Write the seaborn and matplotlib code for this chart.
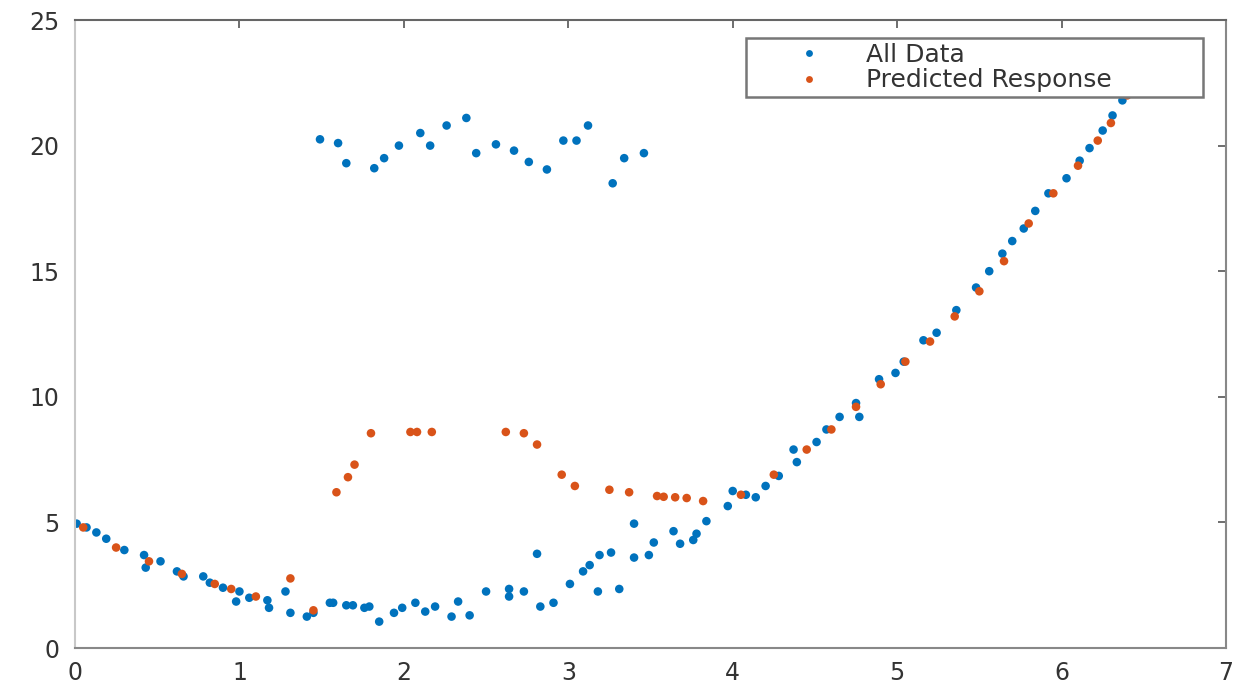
import numpy as np
import pandas as pd
import matplotlib
matplotlib.use("Agg")
import matplotlib.pyplot as plt
import seaborn as sns

# ---- data ----
all_x = [0.01, 0.07, 0.13, 0.19, 0.30, 0.42, 0.43, 0.52, 0.62, 0.66, 0.78, 0.82, 0.90,
         1.00, 0.98, 1.06, 1.17, 1.18, 1.28, 1.31, 1.41, 1.45, 1.55, 1.65, 1.76,
         1.57, 1.69, 1.79, 1.85, 1.94, 1.99, 2.07, 2.13, 2.19, 2.29, 2.33, 2.40,
         2.50, 2.64, 2.64, 2.73, 2.81, 2.83, 2.91, 3.01, 3.09, 3.13, 3.19, 3.26,
         3.18, 3.31, 3.40, 3.40, 3.49, 3.52, 3.64, 3.68, 3.76, 3.78, 3.84, 3.97,
         4.00, 4.08, 4.14, 4.20, 4.28, 4.39, 4.37, 4.51, 4.57, 4.65, 4.75, 4.77,
         4.89, 4.99, 5.04, 5.16, 5.24, 5.36, 5.48, 5.56, 5.64, 5.70, 5.77, 5.84,
         5.92, 6.03, 6.11, 6.17, 6.25, 6.31, 6.37,
         1.49, 1.60, 1.65, 1.82, 1.88, 1.97, 2.10, 2.16, 2.26, 2.38, 2.44, 2.56,
         2.67, 2.76, 2.87, 2.97, 3.05, 3.12, 3.27, 3.34, 3.46]
all_y = [4.95, 4.80, 4.60, 4.35, 3.90, 3.70, 3.20, 3.45, 3.05, 2.85, 2.85, 2.60, 2.40,
         2.25, 1.85, 2.00, 1.90, 1.60, 2.25, 1.40, 1.25, 1.40, 1.80, 1.70, 1.60,
         1.80, 1.70, 1.65, 1.05, 1.40, 1.60, 1.80, 1.45, 1.65, 1.25, 1.85, 1.30,
         2.25, 2.35, 2.05, 2.25, 3.75, 1.65, 1.80, 2.55, 3.05, 3.30, 3.70, 3.80,
         2.25, 2.35, 3.60, 4.95, 3.70, 4.20, 4.65, 4.15, 4.30, 4.55, 5.05, 5.65,
         6.25, 6.10, 6.00, 6.45, 6.85, 7.40, 7.90, 8.20, 8.70, 9.20, 9.75, 9.20,
         10.70, 10.95, 11.40, 12.25, 12.55, 13.45, 14.35, 15.00, 15.70, 16.20, 16.70, 17.40,
         18.10, 18.70, 19.40, 19.90, 20.60, 21.20, 21.80,
         20.25, 20.10, 19.30, 19.10, 19.50, 20.00, 20.50, 20.00, 20.80, 21.10, 19.70, 20.05,
         19.80, 19.35, 19.05, 20.20, 20.20, 20.80, 18.50, 19.50, 19.70]

pred_x = [0.05, 0.25, 0.45, 0.65, 0.85, 0.95, 1.10, 1.31, 1.45,
          1.59, 1.66, 1.70, 1.80, 2.04, 2.08, 2.17, 2.62, 2.73, 2.81, 2.96, 3.04,
          3.25, 3.37, 3.54, 3.58, 3.65, 3.72, 3.82,
          4.05, 4.25, 4.45, 4.60, 4.75, 4.90, 5.05, 5.20, 5.35, 5.50, 5.65,
          5.80, 5.95, 6.10, 6.22, 6.30, 6.40]
pred_y = [4.80, 4.00, 3.45, 2.95, 2.55, 2.35, 2.05, 2.77, 1.50,
          6.20, 6.80, 7.30, 8.55, 8.60, 8.60, 8.60, 8.60, 8.55, 8.10, 6.90, 6.45,
          6.30, 6.20, 6.05, 6.02, 6.00, 5.97, 5.85,
          6.10, 6.90, 7.90, 8.70, 9.60, 10.50, 11.40, 12.20, 13.20, 14.20, 15.40,
          16.90, 18.10, 19.20, 20.20, 20.90, 22.00]

series_names = ["All Data", "Predicted Response"]
series_colors = ["#0072BD", "#D95319"]
x_ticks = [0, 1, 2, 3, 4, 5, 6, 7]
y_ticks = [0, 5, 10, 15, 20, 25]

df = pd.concat([
    pd.DataFrame({"x": all_x, "y": all_y, "series": series_names[0]}),
    pd.DataFrame({"x": pred_x, "y": pred_y, "series": series_names[1]}),
], ignore_index=True)

sns.set_style("white")
plt.rcParams["font.family"] = ["DejaVu Sans"]

W, H = 1255, 692
L, R, T, B = 75, 1226, 20, 648
fig = plt.figure(figsize=(W / 100, H / 100), dpi=100)
ax = fig.add_axes([L / W, 1 - B / H, (R - L) / W, (B - T) / H])

sns.scatterplot(data=df, x="x", y="y", hue="series", hue_order=series_names,
                palette=series_colors, s=38, linewidth=0, ax=ax, legend=True)

ax.set_xlim(0, 7)
ax.set_ylim(0, 25)
ax.set_xticks(x_ticks)
ax.set_yticks(y_ticks)
ax.set_xlabel("")
ax.set_ylabel("")
ax.tick_params(direction="in", length=6, width=1.2, colors="#555555",
               labelsize=17, labelcolor="#333333", top=True, right=True)
ax.tick_params(axis="x", pad=9)
ax.tick_params(axis="y", pad=11)
for side, sp in ax.spines.items():
    sp.set_visible(True)
    sp.set_color("#888888")
    sp.set_linewidth(1.5)
ax.spines["left"].set_color("#c8c8c8")
ax.spines["top"].set_color("#666666")

# legend box: px (746,38)-(1203,98)
lx0 = (746 - L) / (R - L)
lw = (1203 - 746) / (R - L)
ly1 = (B - 38) / (B - T)
leg = ax.legend(loc="upper left", bbox_to_anchor=(lx0, ly1 - 0.1, lw, 0.1), mode="expand",
                fontsize=18, frameon=True, fancybox=False, edgecolor="#777777",
                handletextpad=0.0, borderpad=0.2, labelspacing=0.05, markerscale=0.8,
                handlelength=4.6, borderaxespad=0)
leg.get_frame().set_linewidth(1.8)
leg.get_frame().set_alpha(1)
for t in leg.get_texts():
    t.set_color("#333333")

fig.savefig("out.png", dpi=100)
